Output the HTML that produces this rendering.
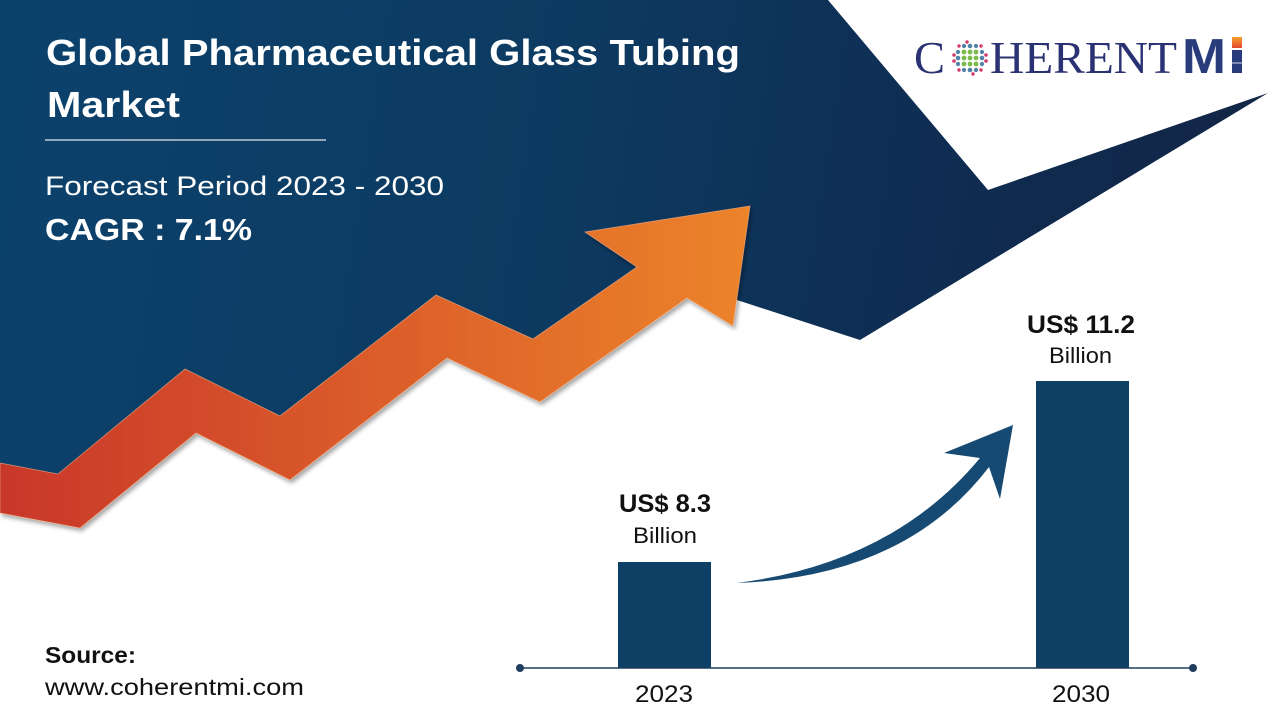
<!DOCTYPE html>
<html>
<head>
<meta charset="utf-8">
<style>
  html,body{margin:0;padding:0;background:#fff;}
  body{width:1280px;height:720px;overflow:hidden;}
  svg{display:block;}
  .sans{font-family:"Liberation Sans",Arial,sans-serif;}
  .serif{font-family:"Liberation Serif","Times New Roman",serif;}
</style>
</head>
<body>
<svg width="1280" height="720" viewBox="0 0 1280 720" xmlns="http://www.w3.org/2000/svg">
  <defs>
    <linearGradient id="blueG" x1="0" y1="0" x2="1280" y2="200" gradientUnits="userSpaceOnUse">
      <stop offset="0" stop-color="#0b426c"/>
      <stop offset="0.45" stop-color="#0d3a61"/>
      <stop offset="0.75" stop-color="#0f2c51"/>
      <stop offset="1" stop-color="#132546"/>
    </linearGradient>
    <linearGradient id="orG" x1="0" y1="0" x2="750" y2="0" gradientUnits="userSpaceOnUse">
      <stop offset="0" stop-color="#c8372a"/>
      <stop offset="0.4" stop-color="#d8552a"/>
      <stop offset="1" stop-color="#ec842a"/>
    </linearGradient>
    <linearGradient id="iG" x1="0" y1="0" x2="0" y2="1">
      <stop offset="0" stop-color="#f5a02a"/>
      <stop offset="1" stop-color="#e2472e"/>
    </linearGradient>
    <filter id="sh" x="-5%" y="-5%" width="110%" height="120%">
      <feDropShadow dx="2" dy="3" stdDeviation="2" flood-color="#000" flood-opacity="0.35"/>
    </filter>
  </defs>

  <!-- blue background shape -->
  <polygon fill="url(#blueG)" points="0,0 828,0 988,190 1268,93 860,340 737,300 700,280 640,285 540,370 440,330 290,450 190,400 70,500 0,490"/>

  <!-- orange zigzag arrow -->
  <polygon filter="url(#sh)" fill="url(#orG)" stroke="#f4b088" stroke-width="0.8" stroke-opacity="0.7"
    points="0,463 58,474 185,369 280,416 436,295 533,339 637,267 585,232 750,206 733,326 687,298 540,402 447,358 290,480 196,433 80,528 0,513"/>

  <!-- title -->
  <text class="sans" x="46" y="65" font-size="36" font-weight="bold" fill="#fff" textLength="694" lengthAdjust="spacingAndGlyphs">Global Pharmaceutical Glass Tubing</text>
  <text class="sans" x="47" y="117" font-size="36" font-weight="bold" fill="#fff" textLength="133" lengthAdjust="spacingAndGlyphs">Market</text>
  <line x1="45" y1="140" x2="326" y2="140" stroke="#dfe6ee" stroke-width="1.2"/>
  <text class="sans" x="45" y="195" font-size="27" fill="#fff" textLength="399" lengthAdjust="spacingAndGlyphs">Forecast Period 2023 - 2030</text>
  <text class="sans" x="45" y="240" font-size="31" font-weight="bold" fill="#fff" textLength="207" lengthAdjust="spacingAndGlyphs">CAGR : 7.1%</text>

  <!-- logo -->
  <text class="serif" x="914" y="73" font-size="46" fill="#2a3273" textLength="31" lengthAdjust="spacingAndGlyphs">C</text>
  <g transform="translate(970,58)">
    <g fill="#7cba4a">
      <circle cx="-6" cy="-6" r="2.4"/><circle cx="0" cy="-6" r="2.4"/><circle cx="6" cy="-6" r="2.4"/>
      <circle cx="-6" cy="0" r="2.4"/><circle cx="0" cy="0" r="2.4"/><circle cx="6" cy="0" r="2.4"/>
      <circle cx="-6" cy="6" r="2.4"/><circle cx="0" cy="6" r="2.4"/><circle cx="6" cy="6" r="2.4"/>
    </g>
    <g fill="#4f82a6">
      <circle cx="-12" cy="0" r="2.3"/><circle cx="12" cy="0" r="2.3"/>
      <circle cx="0" cy="-12" r="2.3"/><circle cx="0" cy="12" r="2.3"/>
      <circle cx="-6" cy="-12" r="2.1"/><circle cx="6" cy="-12" r="2.1"/>
      <circle cx="-6" cy="12" r="2.1"/><circle cx="6" cy="12" r="2.1"/>
      <circle cx="-12" cy="-6" r="2.1"/><circle cx="12" cy="-6" r="2.1"/>
      <circle cx="-12" cy="6" r="2.1"/><circle cx="12" cy="6" r="2.1"/>
    </g>
    <g fill="#d2386c">
      <circle cx="-16" cy="-3" r="1.8"/><circle cx="-16" cy="3" r="1.8"/>
      <circle cx="16" cy="-3" r="1.8"/><circle cx="16" cy="3" r="1.8"/>
      <circle cx="-11" cy="-12" r="1.7"/><circle cx="11" cy="-12" r="1.7"/>
      <circle cx="-11" cy="12" r="1.7"/><circle cx="11" cy="12" r="1.7"/>
      <circle cx="-3" cy="-16" r="1.7"/><circle cx="3" cy="16" r="1.7"/>
    </g>
  </g>
  <text class="serif" x="990" y="73" font-size="46" fill="#2a3273" textLength="187" lengthAdjust="spacingAndGlyphs">HERENT</text>
  <text class="sans" x="1182" y="73" font-size="49" font-weight="bold" fill="#283c7c" textLength="44" lengthAdjust="spacingAndGlyphs">M</text>
  <rect x="1232" y="37" width="10" height="11" fill="url(#iG)"/>
  <rect x="1232" y="50" width="10" height="23" fill="#283c7c"/>
  <rect x="1232" y="62.5" width="10" height="1" fill="#ffffff" opacity="0.8"/>

  <!-- bar chart -->
  <rect x="618" y="562" width="93" height="106" fill="#0e4066"/>
  <rect x="1036" y="381" width="93" height="287" fill="#0e4066"/>
  <line x1="520" y1="668" x2="1193" y2="668" stroke="#1f3d5c" stroke-width="1.6"/>
  <circle cx="520" cy="668" r="4" fill="#1f3d5c"/>
  <circle cx="1193" cy="668" r="4" fill="#1f3d5c"/>

  <!-- curved arrow -->
  <path fill="#164a72" d="M737,583 Q893,563 980,458 L944,453 L1013,425 L1000,499 L989,467 Q905,577 737,583 Z"/>

  <!-- bar labels -->
  <text class="sans" x="619" y="512" font-size="25" font-weight="bold" fill="#111" textLength="92" lengthAdjust="spacingAndGlyphs">US$ 8.3</text>
  <text class="sans" x="633" y="543" font-size="22" fill="#111" textLength="64" lengthAdjust="spacingAndGlyphs">Billion</text>
  <text class="sans" x="1027" y="333" font-size="25" font-weight="bold" fill="#111" textLength="108" lengthAdjust="spacingAndGlyphs">US$ 11.2</text>
  <text class="sans" x="1049" y="363" font-size="22" fill="#111" textLength="63" lengthAdjust="spacingAndGlyphs">Billion</text>

  <text class="sans" x="635" y="702" font-size="24" fill="#111" textLength="58" lengthAdjust="spacingAndGlyphs">2023</text>
  <text class="sans" x="1052" y="702" font-size="24" fill="#111" textLength="58" lengthAdjust="spacingAndGlyphs">2030</text>

  <!-- source -->
  <text class="sans" x="45" y="663" font-size="23" font-weight="bold" fill="#111" textLength="91" lengthAdjust="spacingAndGlyphs">Source:</text>
  <text class="sans" x="45" y="695" font-size="23" fill="#111" textLength="259" lengthAdjust="spacingAndGlyphs">www.coherentmi.com</text>
</svg>
</body>
</html>
